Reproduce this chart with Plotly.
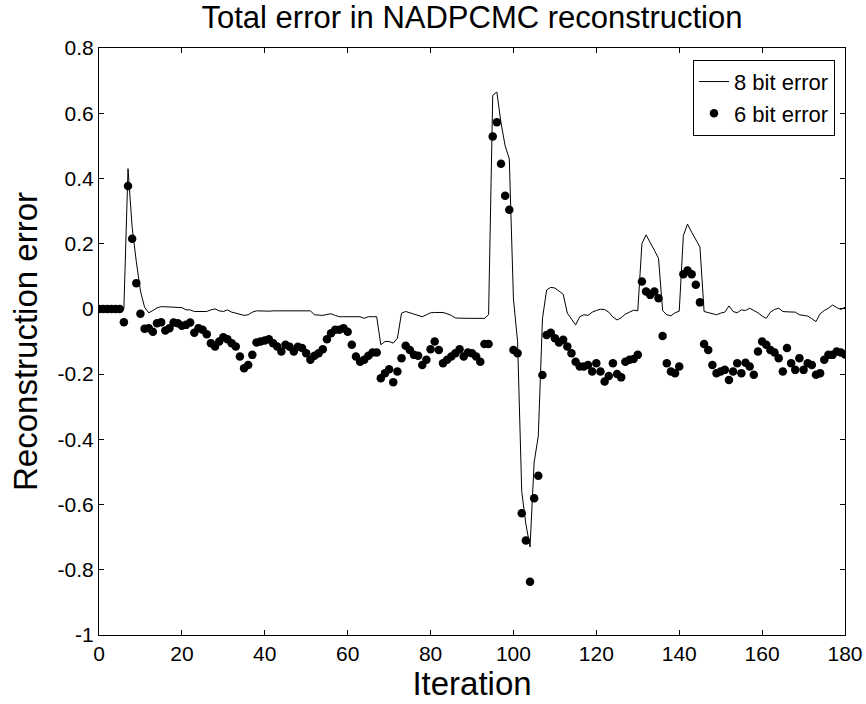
import plotly.graph_objects as go

iterations = list(range(0, 181))

err_8bit = [
    0, 0, 0, 0, 0, 0, 0, 0.43, 0.25, 0.145,
    0.055, 0.005, -0.012, -0.005, 0.003, 0.007, 0.006, 0.005, 0.005, 0.004,
    0.004, -0.003, -0.003, -0.008, -0.008, -0.006, -0.008, -0.003, 0.0, -0.006,
    -0.008, -0.003, -0.01, -0.013, -0.016, -0.02, -0.018, -0.01, -0.006, -0.007,
    -0.007, -0.007, -0.006, -0.006, -0.005, -0.005, -0.005, -0.005, -0.005, -0.005,
    -0.005, -0.006, -0.018, -0.018, -0.02, -0.017, -0.015, -0.02, -0.024, -0.024,
    -0.024, -0.024, -0.024, -0.024, -0.029, -0.024, -0.024, -0.024, -0.11, -0.1,
    -0.1, -0.105, -0.09, -0.013, -0.008, -0.012, -0.018, -0.02, -0.024, -0.018,
    -0.012, -0.011, -0.011, -0.011, -0.015, -0.02, -0.028, -0.029, -0.029, -0.029,
    -0.029, -0.029, -0.029, -0.029, -0.018, 0.655, 0.665, 0.57, 0.5, 0.46,
    0.03, -0.1, -0.56, -0.66, -0.73, -0.47, -0.39, -0.03, 0.058, 0.066,
    0.064, 0.055, 0.045, -0.013, -0.03, -0.049, -0.024, -0.018, -0.02, -0.01,
    -0.005, -0.001, -0.002, -0.01, -0.025, -0.034, -0.027, -0.016, -0.01, -0.004,
    -0.006, 0.2, 0.227, 0.205, 0.18, 0.155, -0.005, -0.018, -0.021, -0.012,
    -0.007, 0.225, 0.26, 0.235, 0.21, 0.19, -0.008, -0.012, -0.016, -0.018,
    -0.013, -0.01, 0.009, -0.008, -0.012, -0.003, -0.005, 0.002, -0.005, -0.012,
    -0.022, -0.029, -0.01, -0.002, 0.002, -0.008, -0.009, -0.01, -0.01, -0.018,
    -0.02, -0.022, -0.03, -0.039, -0.015, -0.005, 0.002, 0.012, 0.004, -0.002,
    0.005,
]

err_6bit = [
    0, 0, 0, 0, 0, 0, -0.041, 0.377, 0.215, 0.079,
    -0.015, -0.061, -0.059, -0.07, -0.044, -0.041, -0.066, -0.059, -0.042, -0.044,
    -0.052, -0.049, -0.042, -0.073, -0.059, -0.064, -0.078, -0.105, -0.115, -0.1,
    -0.087, -0.093, -0.105, -0.115, -0.146, -0.182, -0.172, -0.141, -0.103, -0.1,
    -0.097, -0.093, -0.105, -0.115, -0.131, -0.11, -0.116, -0.131, -0.116, -0.12,
    -0.136, -0.156, -0.144, -0.136, -0.124, -0.093, -0.075, -0.064, -0.064, -0.059,
    -0.07, -0.11, -0.146, -0.162, -0.156, -0.144, -0.134, -0.134, -0.213, -0.197,
    -0.185, -0.225, -0.192, -0.151, -0.113, -0.126, -0.141, -0.144, -0.172, -0.156,
    -0.124, -0.1, -0.126, -0.167, -0.156, -0.146, -0.136, -0.124, -0.146, -0.134,
    -0.136, -0.146, -0.162, -0.108, -0.108, 0.529, 0.572, 0.445, 0.347, 0.304,
    -0.126, -0.136, -0.627, -0.71, -0.837, -0.581, -0.512, -0.203, -0.08, -0.073,
    -0.09, -0.103, -0.095, -0.115, -0.136, -0.162, -0.177, -0.177, -0.172, -0.192,
    -0.167, -0.192, -0.223, -0.206, -0.167, -0.2, -0.21, -0.162, -0.156, -0.154,
    -0.141, 0.084, 0.053, 0.043, 0.053, 0.033, -0.083, -0.167, -0.192, -0.197,
    -0.177, 0.106, 0.118, 0.106, 0.074, 0.02, -0.108, -0.126, -0.172, -0.197,
    -0.192, -0.187, -0.218, -0.192, -0.167, -0.197, -0.165, -0.177, -0.202, -0.131,
    -0.1, -0.11, -0.126, -0.134, -0.151, -0.192, -0.12, -0.167, -0.187, -0.151,
    -0.187, -0.167, -0.172, -0.202, -0.197, -0.156, -0.141, -0.141, -0.131, -0.134,
    -0.14,
]

x_ticks = [0, 20, 40, 60, 80, 100, 120, 140, 160, 180]
y_ticks = [-1, -0.8, -0.6, -0.4, -0.2, 0, 0.2, 0.4, 0.6, 0.8]
y_tick_text = ["-1", "-0.8", "-0.6", "-0.4", "-0.2", "0", "0.2", "0.4", "0.6", "0.8"]

FONT = "Liberation Sans, Arial, sans-serif"

fig = go.Figure()
fig.add_trace(go.Scatter(
    x=iterations, y=err_8bit, mode="lines", name="8 bit error",
    line=dict(color="black", width=1),
))
fig.add_trace(go.Scatter(
    x=iterations, y=err_6bit, mode="markers", name="6 bit error",
    marker=dict(color="black", size=8.5),
))

axis_common = dict(
    showline=True, linecolor="black", linewidth=1, mirror="ticks",
    ticks="inside", ticklen=5, tickcolor="black", showgrid=False,
    zeroline=False, automargin=False,
    tickfont=dict(family=FONT, size=21, color="black"),
)

fig.update_layout(
    width=866, height=704,
    margin=dict(l=99, r=21, t=48, b=69, autoexpand=False),
    paper_bgcolor="white", plot_bgcolor="white",
    title=dict(text="Total error in NADPCMC reconstruction", x=0.545, xanchor="center",
               yref="container", y=0.976, yanchor="middle",
               font=dict(family=FONT, size=31, color="black")),
    xaxis=dict(range=[0, 180], tickvals=x_ticks,
               title=dict(text="Iteration", font=dict(family=FONT, size=33, color="black"), standoff=0),
               **axis_common),
    yaxis=dict(range=[-1, 0.8], tickvals=y_ticks, ticktext=y_tick_text,
               title=dict(text="Reconstruction error", font=dict(family=FONT, size=33, color="black"), standoff=10),
               **axis_common),
    legend=dict(x=0.9866, y=0.98, xanchor="right", yanchor="top",
                bordercolor="black", borderwidth=1, bgcolor="white",
                font=dict(family=FONT, size=22, color="black"),
                tracegroupgap=0),
    showlegend=True,
)

fig.write_html("out.html")
